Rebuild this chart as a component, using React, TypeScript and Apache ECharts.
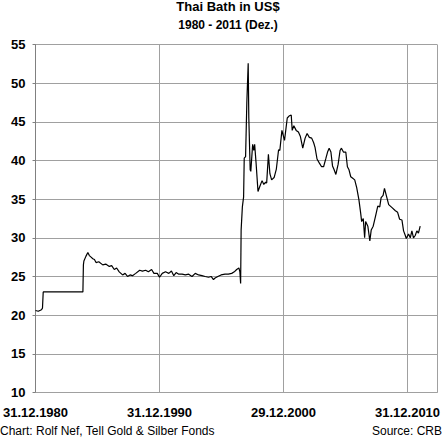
import React, { useEffect, useRef } from "react";
import * as echarts from "echarts";

const titleText = "Thai Bath in US$";
const subtitleText = "1980 - 2011 (Dez.)";
const creditText = "Chart: Rolf Nef, Tell Gold & Silber Fonds";
const sourceText = "Source: CRB";

// x = years since 31.12.1980
const xTickValues = [0, 10, 20, 30];
const xTickLabels = ["31.12.1980", "31.12.1990", "29.12.2000", "31.12.2010"];
const xMin = 0;
const xMax = 32.4;
const xStep = 10;
const yMin = 10;
const yMax = 55;
const yStep = 5;

// [years since 31.12.1980, baht per US$]
const peg1981to1984: [number, number][] = [
  [0.0, 20.6], [0.22, 20.5], [0.48, 20.7], [0.56, 20.9], [0.62, 23.0],
  [3.82, 23.0], [3.86, 26.5], [3.9, 27.0], [4.06, 27.6], [4.22, 28.1],
];

const basket1985to1997: [number, number][] = [
  [4.34, 27.7], [4.48, 27.5], [4.62, 27.3], [4.75, 27.2], [4.88, 26.8],
  [5.1, 26.9], [5.42, 26.5], [5.66, 26.6], [5.95, 26.3], [6.14, 26.4],
  [6.35, 25.9], [6.54, 26.1], [6.75, 25.6], [7.02, 25.2], [7.22, 25.4],
  [7.42, 25.0], [7.62, 25.2], [7.82, 25.1], [8.08, 25.4], [8.4, 25.8],
  [8.62, 25.7], [8.88, 25.8], [9.1, 25.6], [9.36, 25.9], [9.55, 25.4],
  [9.82, 25.4], [10.0, 24.9], [10.22, 25.4], [10.48, 25.6], [10.75, 25.4],
  [10.96, 25.7], [11.15, 25.1], [11.34, 25.5], [11.55, 25.3], [11.82, 25.3],
  [12.08, 25.2], [12.35, 25.3], [12.62, 25.0], [12.88, 25.4], [13.15, 25.2],
  [13.42, 25.1], [13.68, 25.0], [13.95, 24.9], [14.16, 25.0], [14.35, 24.6],
  [14.48, 24.8], [14.7, 25.0], [14.96, 25.2], [15.28, 25.3], [15.55, 25.3],
  [15.82, 25.4], [16.03, 25.6], [16.22, 25.9], [16.4, 26.1], [16.48, 25.6],
  [16.54, 24.1],
];

const crisis1997to2001: [number, number][] = [
  [16.58, 31.0], [16.68, 34.0], [16.78, 35.3], [16.83, 40.3], [16.94, 40.5],
  [17.04, 47.5], [17.15, 52.6], [17.2, 45.5], [17.31, 38.8], [17.36, 38.6],
  [17.51, 42.1], [17.6, 41.3], [17.67, 42.1], [17.78, 39.8], [17.94, 36.0],
  [18.1, 36.7], [18.27, 37.4], [18.41, 36.9], [18.55, 37.2], [18.64, 37.1],
  [18.78, 40.8], [18.9, 38.3], [19.04, 37.5], [19.24, 37.8], [19.42, 38.9],
  [19.6, 41.4], [19.7, 41.3], [19.87, 43.9], [20.08, 42.6], [20.3, 45.5],
  [20.48, 45.8], [20.62, 45.9], [20.7, 43.9], [20.83, 44.5], [21.02, 43.9],
];

const recent2002to2011: [number, number][] = [
  [21.2, 43.7], [21.36, 43.1], [21.55, 41.6], [21.74, 42.9], [21.9, 43.5],
  [22.08, 43.0], [22.27, 42.9], [22.43, 42.3], [22.54, 41.7], [22.7, 40.2],
  [22.88, 39.7], [23.07, 39.2], [23.23, 39.2], [23.42, 40.3], [23.55, 41.1],
  [23.68, 41.6], [23.82, 41.1], [23.95, 39.3], [24.08, 38.8], [24.22, 38.2],
  [24.4, 39.5], [24.56, 41.3], [24.67, 41.6], [24.83, 41.1], [25.02, 41.1],
  [25.15, 39.2], [25.28, 38.8], [25.42, 37.9], [25.58, 37.7], [25.74, 37.5],
  [25.9, 36.5], [26.08, 34.9], [26.22, 33.2], [26.3, 32.1], [26.43, 32.5],
  [26.54, 30.0], [26.62, 32.1], [26.8, 31.5], [26.96, 29.6], [27.07, 31.0],
  [27.23, 31.5], [27.42, 32.8], [27.6, 34.1], [27.76, 34.0], [27.87, 35.2],
  [28.03, 35.5], [28.14, 36.4], [28.27, 35.6], [28.48, 34.3], [28.75, 33.9],
  [29.02, 33.5], [29.2, 33.3], [29.36, 32.4], [29.55, 32.3], [29.68, 30.9],
  [29.82, 30.3], [29.9, 29.9], [30.08, 30.5], [30.22, 30.0], [30.35, 30.9],
  [30.48, 30.0], [30.62, 30.3], [30.75, 30.9], [30.88, 30.6], [31.02, 31.5],
];

const FONT = '"Liberation Sans", Arial, sans-serif';

export default function App() {
  const ref = useRef<HTMLDivElement>(null);
  useEffect(() => {
    if (!ref.current) return;
    const chart = echarts.init(ref.current, null, { renderer: "svg" });
    const data = [...peg1981to1984, ...basket1985to1997, ...crisis1997to2001, ...recent2002to2011];
    chart.setOption({
      animation: false,
      backgroundColor: "#ffffff",
      textStyle: { fontFamily: FONT },
      grid: { left: 32.3, right: 5.7, top: 44.6, bottom: 45.6, containLabel: false },
      xAxis: {
        type: "value",
        min: xMin,
        max: xMax,
        interval: xStep,
        axisLine: { show: true, lineStyle: { color: "#a0a0a0", width: 1 } },
        axisTick: { show: false },
        axisLabel: {
          show: true,
          showMaxLabel: false,
          color: "#000",
          fontFamily: FONT,
          fontSize: 13,
          fontWeight: "bold",
          margin: 14,
          formatter: (v: number) => {
            const i = xTickValues.indexOf(v);
            return i >= 0 ? xTickLabels[i] : "";
          },
        },
        splitLine: { show: true, lineStyle: { color: "#a0a0a0", width: 1 } },
      },
      yAxis: {
        type: "value",
        min: yMin,
        max: yMax,
        interval: yStep,
        axisLine: { show: true, lineStyle: { color: "#808080", width: 1 } },
        axisTick: { show: true, length: 3, lineStyle: { color: "#808080" } },
        axisLabel: {
          color: "#000",
          fontFamily: FONT,
          fontSize: 13,
          fontWeight: "bold",
          margin: 10,
        },
        splitLine: { show: true, lineStyle: { color: "#a0a0a0", width: 1 } },
      },
      series: [
        {
          type: "line",
          data,
          showSymbol: false,
          symbol: "none",
          silent: true,
          lineStyle: { color: "#000", width: 1.2 },
        },
      ],
      graphic: [
        {
          type: "text",
          x: 228,
          y: 0,
          style: { text: titleText, fill: "#000", font: `bold 13px ${FONT}`, align: "center", verticalAlign: "top" },
        },
        {
          type: "text",
          x: 228,
          y: 19,
          style: { text: subtitleText, fill: "#000", font: `bold 12px ${FONT}`, align: "center", verticalAlign: "top" },
        },
        {
          type: "text",
          x: 0,
          y: 425,
          style: { text: creditText, fill: "#000", font: `12px ${FONT}`, align: "left", verticalAlign: "top" },
        },
        {
          type: "text",
          x: 442,
          y: 425,
          style: { text: sourceText, fill: "#000", font: `12px ${FONT}`, align: "right", verticalAlign: "top" },
        },
      ],
    });
    return () => chart.dispose();
  }, []);
  return <div ref={ref} style={{ position: "fixed", left: 0, top: 0, width: 443, height: 438 }} />;
}
